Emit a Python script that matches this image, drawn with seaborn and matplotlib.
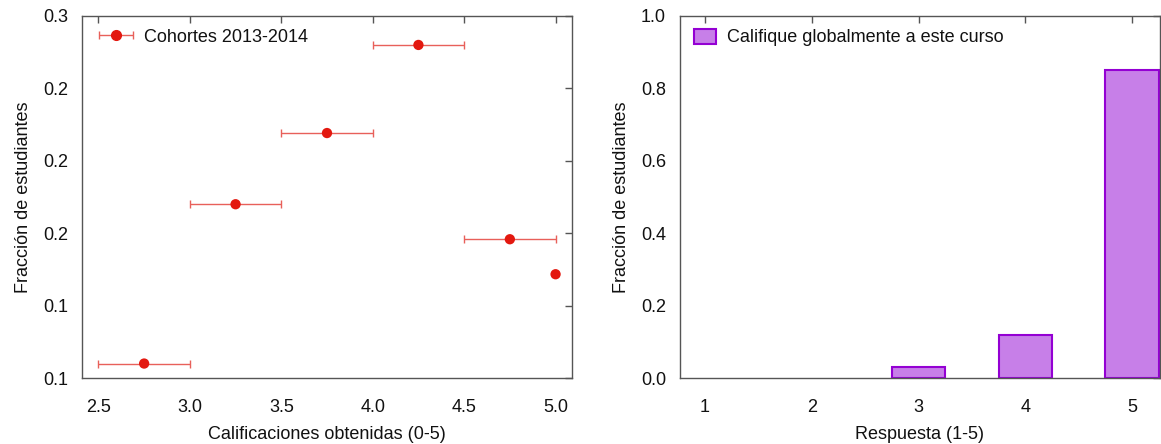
import seaborn as sns
import matplotlib.pyplot as plt
import pandas as pd
from matplotlib.ticker import FormatStrFormatter
from matplotlib.lines import Line2D
from matplotlib.patches import Patch
from matplotlib.legend_handler import HandlerErrorbar
from matplotlib.container import ErrorbarContainer

# datos del panel izquierdo (calificaciones)
calificaciones = [2.75, 3.25, 3.75, 4.25, 4.75, 5.0]
fraccion_cal = [0.116, 0.182, 0.2115, 0.248, 0.1675, 0.153]
error_cal = [0.25, 0.25, 0.25, 0.25, 0.25, 0.0]
ticks_izq = [0.11, 0.14, 0.17, 0.20, 0.23, 0.26]

# datos del panel derecho (respuestas)
respuestas = [1, 2, 3, 4, 5]
fraccion_resp = [0.0, 0.0, 0.03, 0.119, 0.851]

sns.set_style("white")
plt.rcParams['font.family'] = ['Liberation Sans', 'DejaVu Sans']
plt.rcParams['font.size'] = 13
plt.rcParams['text.color'] = "#111111"
plt.rcParams['axes.labelcolor'] = "#111111"
plt.rcParams['xtick.color'] = "#111111"
plt.rcParams['ytick.color'] = "#111111"

fig = plt.figure(figsize=(11.61, 4.44), dpi=100)
ax1 = fig.add_axes([0.0706, 0.1486, 0.4221, 0.8154])
ax2 = fig.add_axes([0.5857, 0.1486, 0.4133, 0.8154])

rojo = "#e3180f"
relleno = "#c77fe8"
borde = "#9400d3"

# panel izquierdo
barras = ax1.errorbar(calificaciones, fraccion_cal, xerr=error_cal, fmt="none",
                      ecolor="#e8605a", elinewidth=1, capsize=3, capthick=1)
df_cal = pd.DataFrame({"x": calificaciones, "y": fraccion_cal})
sns.scatterplot(data=df_cal, x="x", y="y", ax=ax1, color=rojo, s=55,
                edgecolor="none", zorder=3, legend=False)
# entrada de leyenda (punto con barra horizontal)
marca = Line2D([], [], marker="o", color=rojo, markersize=7, linestyle="none")
handle = ErrorbarContainer((marca, barras.lines[1], barras.lines[2]),
                           has_xerr=True, has_yerr=False)
ax1.legend([handle], ["Cohortes 2013-2014"], loc="upper left", frameon=False,
           fontsize=13, handlelength=1.9, borderaxespad=0.0,
           bbox_to_anchor=(0.02, 0.985), handletextpad=0.6,
           handler_map={ErrorbarContainer: HandlerErrorbar(xerr_size=0.95)})
ax1.set_xlim(2.41, 5.09)
ax1.set_ylim(0.11, 0.26)
ax1.set_xticks([2.5, 3.0, 3.5, 4.0, 4.5, 5.0])
ax1.set_yticks(ticks_izq)
ax1.yaxis.set_major_formatter(FormatStrFormatter("%.1f"))
ax1.xaxis.set_major_formatter(FormatStrFormatter("%.1f"))
ax1.set_xlabel("Calificaciones obtenidas (0-5)", labelpad=7)
ax1.set_ylabel("Fracción de estudiantes", labelpad=8)

# panel derecho
df_resp = pd.DataFrame({"x": respuestas, "y": fraccion_resp})
sns.barplot(data=df_resp, x="x", y="y", ax=ax2, native_scale=True,
            width=0.5, color=relleno, edgecolor=borde, linewidth=1.5,
            saturation=1)
for p in ax2.patches:
    if p.get_height() == 0:
        p.set_linewidth(0)
caja = Patch(facecolor=relleno, edgecolor=borde, linewidth=1.5)
ax2.legend([caja], ["Califique globalmente a este curso"], loc="upper left",
           frameon=False, fontsize=13, handlelength=1.2, handleheight=0.9,
           borderaxespad=0.0, bbox_to_anchor=(0.015, 0.985),
           handletextpad=0.6)
ax2.set_xlim(0.765, 5.26)
ax2.set_ylim(0, 1.0)
ax2.set_xticks(respuestas)
ax2.set_yticks([0.0, 0.2, 0.4, 0.6, 0.8, 1.0])
ax2.yaxis.set_major_formatter(FormatStrFormatter("%.1f"))
ax2.set_xlabel("Respuesta (1-5)", labelpad=7)
ax2.set_ylabel("Fracción de estudiantes", labelpad=8)

for ax in (ax1, ax2):
    ax.tick_params(direction="in", top=True, right=True, length=5,
                   width=1, color="#555555", labelsize=13)
    ax.tick_params(axis="x", pad=15)
    ax.tick_params(axis="y", pad=10)
    for sp in ax.spines.values():
        sp.set_color("#555555")
        sp.set_linewidth(1)

plt.savefig("out.png", dpi=100)
